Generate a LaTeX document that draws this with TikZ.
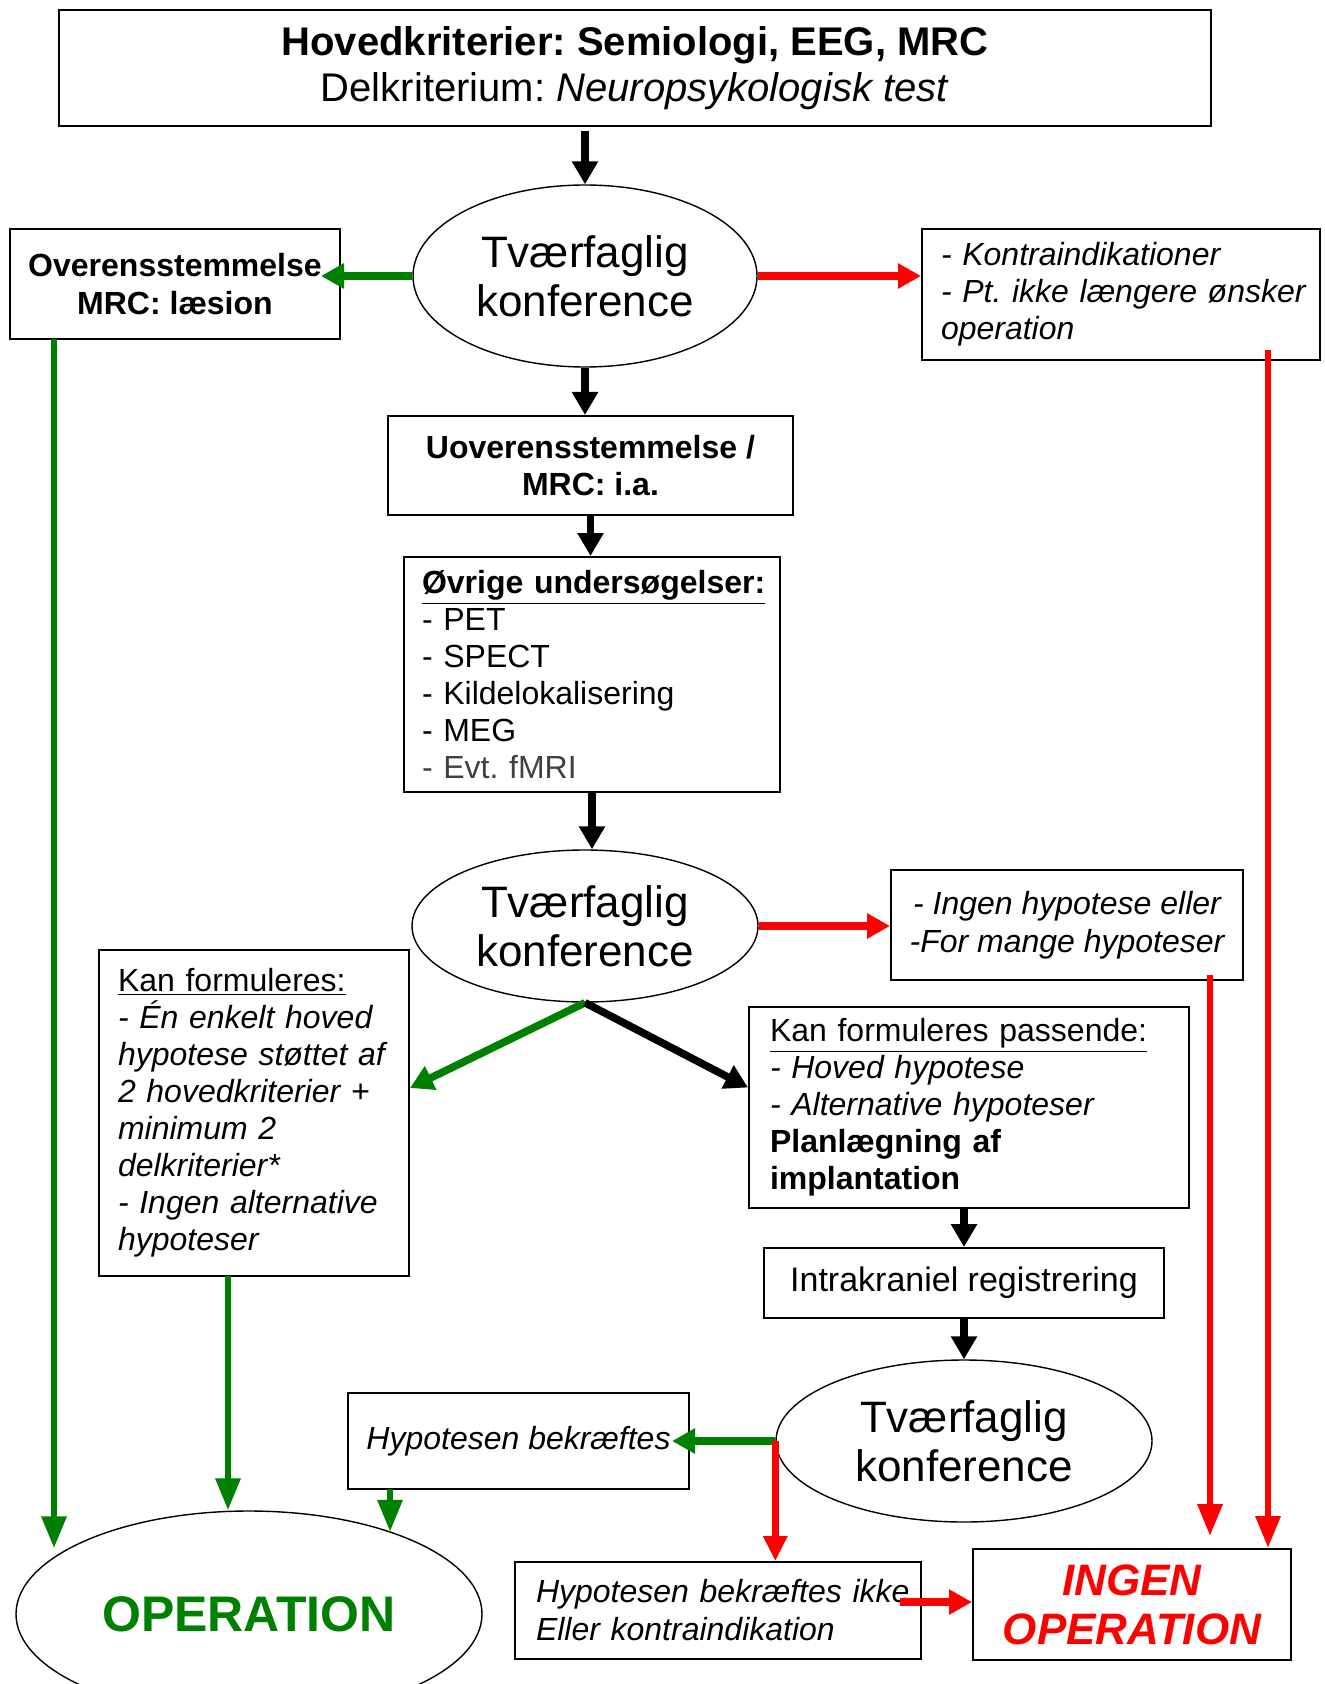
\documentclass[tikz,border=0pt]{standalone}
\usepackage{fontspec}
\setmainfont{Liberation Sans}
\usetikzlibrary{shapes.geometric}
\usetikzlibrary{arrows.meta}
\frenchspacing
\definecolor{grn}{RGB}{0,128,0}
\definecolor{graa}{RGB}{64,64,64}
\tikzstyle{boks}=[draw,line width=1pt,inner ysep=0pt,font=\fontsize{16}{18.5}\selectfont]
\tikzstyle{kursiv}=[font=\fontsize{16}{18.5}\selectfont\itshape]
\tikzstyle{fed}=[font=\fontsize{16}{18.5}\selectfont\bfseries]
\tikzstyle{konf}=[ellipse,draw,line width=0.7pt,inner sep=0pt,align=center,font=\fontsize{22}{24.5}\selectfont]
\tikzstyle{sort}=[line width=3.8pt,-{Triangle[width=12.5pt,length=11.5pt]}]
\tikzstyle{tyk}=[line width=4pt,-{Triangle[width=12pt,length=11.5pt]}]
\tikzstyle{tynd}=[line width=3.2pt,-{Triangle[width=12pt,length=16pt]}]

\begin{document}
\begin{tikzpicture}[x=0.5pt,y=-0.5pt]
		\path[use as bounding box,fill=white] (0,0) rectangle (1325,1684);
		\node[boks,minimum width=576pt,minimum height=58pt,align=center,font=\fontsize{20}{23}\selectfont] (top) at (635,68) {\textbf{Hovedkriterier: Semiologi, EEG, MRC}\\Delkriterium: \textit{Neuropsykologisk test}};
		\node[konf,minimum width=172pt,minimum height=91pt] (konf1) at (585,276) {Tværfaglig\\konference};
		\node[boks,fed,minimum width=165pt,minimum height=55pt,align=center,font=\fontsize{16}{19}\selectfont\bfseries] (ovr) at (175,284) {Overensstemmelse\\MRC: læsion};
		\node[boks,kursiv,text width=180pt,inner xsep=9.5pt,minimum height=65.5pt,align=left] (kontra) at (1121,294.5) {- Kontraindikationer\\\mbox{- Pt. ikke længere ønsker}\\operation};
		\node[boks,fed,minimum width=202.5pt,minimum height=49.5pt,align=center] (uover) at (590.5,465.5) {Uoverensstemmelse /\\MRC: i.a.};
		\node[boks,text width=170pt,inner xsep=9pt,minimum height=117.5pt,align=left] (ovrige) at (592,674.5) {\textbf{\underline{Øvrige undersøgelser:}}\\- PET\\- SPECT\\- Kildelokalisering\\- MEG\\\textcolor{graa}{- Evt. fMRI}};
		\node[konf,minimum width=173pt,minimum height=76pt] (konf2) at (585,926) {Tværfaglig\\konference};
		\node[boks,kursiv,minimum width=176pt,minimum height=55pt,align=center,font=\fontsize{16}{19}\selectfont\itshape] (ingenhyp) at (1067,925) {- Ingen hypotese eller\\-For mange hypoteser};
		\node[boks,kursiv,text width=136pt,inner xsep=9.5pt,minimum height=163pt,align=left] (kanform) at (254,1113) {\textup{\underline{Kan formuleres:}}\\- Én enkelt hoved\\hypotese støttet af\\2 hovedkriterier +\\minimum 2\\delkriterier*\\- Ingen alternative\\hypoteser};
		\node[boks,text width=199pt,inner xsep=10.5pt,minimum height=100.5pt,align=left] (passende) at (969,1107.5) {\underline{Kan formuleres passende:}\\\textit{- Hoved hypotese}\\\textit{- Alternative hypoteser}\\\textbf{Planlægning af}\\\textbf{implantation}};
		\node[boks,minimum width=200pt,minimum height=35pt,font=\fontsize{17}{20}\selectfont] (intra) at (964,1283) {Intrakraniel registrering};
		\node[konf,minimum width=188pt,minimum height=81pt] (konf3) at (964,1441) {Tværfaglig\\konference};
		\node[boks,kursiv,minimum width=170.5pt,minimum height=48pt] (bekr) at (518.5,1441) {Hypotesen bekræftes};
		\node[boks,kursiv,text width=182pt,inner xsep=10.5pt,minimum height=48.5pt,align=left,font=\fontsize{16}{19}\selectfont\itshape] (bekrikke) at (718,1610.5) {\mbox{Hypotesen bekræftes ikke}\\Eller kontraindikation};
		\node[boks,minimum width=159pt,minimum height=55.5pt,align=center,text=red,font=\fontsize{22}{24.5}\selectfont\bfseries\itshape] (ingen) at (1132,1604.5) {INGEN\\OPERATION};
		\node[ellipse,draw,line width=0.7pt,inner sep=0pt,minimum width=233pt,minimum height=103pt,text=grn,font=\fontsize{25}{30}\selectfont\bfseries] (oper) at (249,1614) {OPERATION};
		\coordinate (g1) at (54,339);
		\coordinate (g2) at (228,1276);
		\coordinate (g3) at (390,1489);
		\coordinate (r1) at (1268,350);
		\coordinate (r2) at (1210,975);
		\coordinate (pk) at (900,1602);
		\draw[sort,shorten <=2pt] (konf1.north |- top.south) -- (konf1.north);
		\draw[sort] (konf1.south) -- (konf1.south |- uover.north);
		\draw[sort] (uover.south) -- (uover.south |- ovrige.north);
		\draw[sort] (ovrige.south) -- (ovrige.south |- konf2.north);
		\draw[tyk,grn,shorten >=-10pt] (konf1.west) -- (konf1.west -| ovr.east);
		\draw[tyk,red] (konf1.east) -- (konf1.east -| kontra.west);
		\draw[tyk,red] (konf2.east) -- (konf2.east -| ingenhyp.west);
		\draw[sort,grn] (konf2.south) -- ([yshift=12.5pt]kanform.east);
		\draw[sort] (konf2.south) -- ([yshift=10pt]passende.west);
		\draw[sort] (intra.north |- passende.south) -- (intra.north);
		\draw[sort] (intra.south) -- (konf3.north);
		\draw[tyk,grn,shorten >=-9pt] (konf3.west) -- (konf3.west -| bekr.east);
		\draw[tynd,red,-{Triangle[width=11.5pt,length=12.5pt]}] (konf3.west) -- (konf3.west |- bekrikke.north);
		\draw[tyk,red] (pk) -- (pk -| ingen.west);
		\draw[tynd,grn] (g1) -- (g1 |- oper.160);
		\draw[tynd,grn] (g2) -- (g2 |- oper.north);
		\draw[tynd,grn] (g3) -- (g3 |- oper.30);
		\draw[tynd,red] (r1) -- (r1 |- ingen.north);
		\draw[tynd,red,shorten >=6pt] (r2) -- (r2 |- ingen.north);
\end{tikzpicture}
\end{document}
